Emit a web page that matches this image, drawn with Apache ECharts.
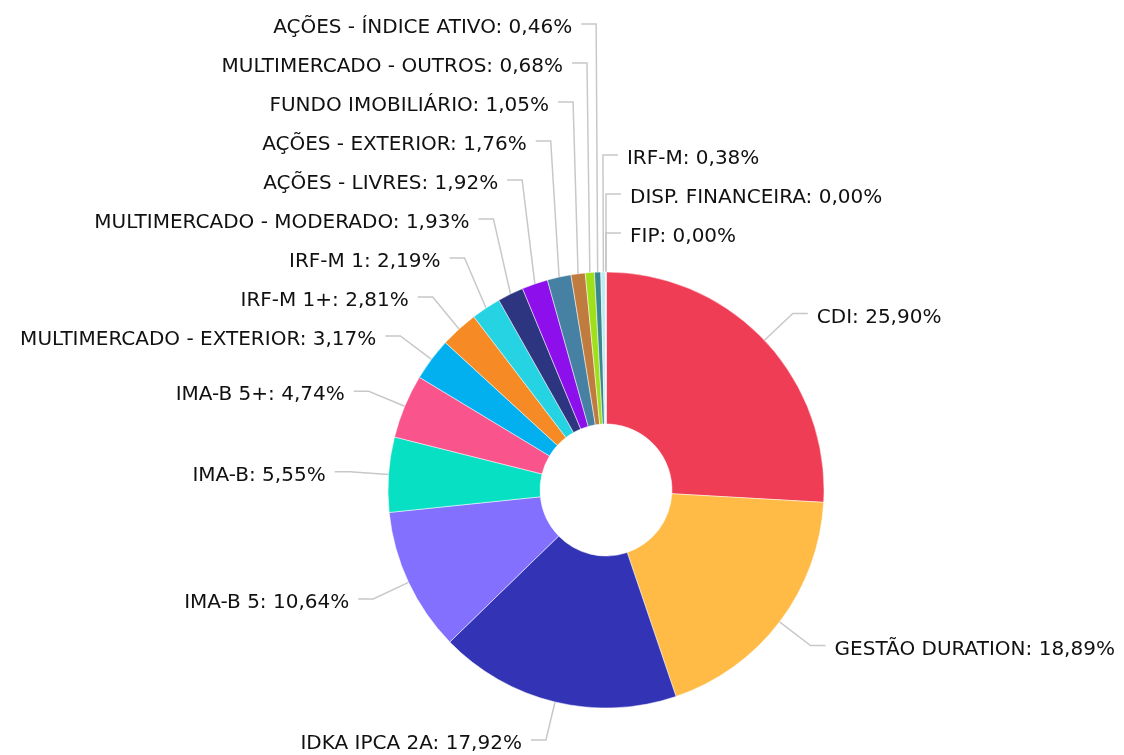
<!DOCTYPE html>
<html>
<head>
<meta charset="utf-8">
<script src="https://cdn.jsdelivr.net/npm/echarts@6/dist/echarts.min.js"></script>
<style>
  html, body { margin: 0; padding: 0; background: #fff; }
  #chart { width: 1124px; height: 755px; }
</style>
</head>
<body>
<div id="chart"></div>
<script>
  // carteira por segmento (%)
  var categorias = [
    'CDI', 'GESTÃO DURATION', 'IDKA IPCA 2A', 'IMA-B 5', 'IMA-B', 'IMA-B 5+',
    'MULTIMERCADO - EXTERIOR', 'IRF-M 1+', 'IRF-M 1', 'MULTIMERCADO - MODERADO',
    'AÇÕES - LIVRES', 'AÇÕES - EXTERIOR', 'FUNDO IMOBILIÁRIO', 'MULTIMERCADO - OUTROS',
    'AÇÕES - ÍNDICE ATIVO', 'IRF-M', 'DISP. FINANCEIRA', 'FIP'
  ];
  var valores = [25.90, 18.89, 17.92, 10.64, 5.55, 4.74, 3.17, 2.81, 2.19, 1.93,
    1.92, 1.76, 1.05, 0.68, 0.46, 0.38, 0.00, 0.00];
  var cores = ['#ef3d55', '#ffbb45', '#3333b5', '#8470ff', '#08e0c4', '#f9548c',
    '#02b0f0', '#f68b25', '#26d3e3', '#2d3480', '#8d0fec', '#4680a2',
    '#c07c3f', '#a0e01a', '#3a8790', '#bfecf0', '#9a9a9a', '#7a7a7a'];

  // geometria da rosca e dos rótulos
  var CX = 606, CY = 490;
  var R_IN = 66, R_OUT = 218;
  var R_ELBOW = 257;   // onde a linha do rótulo dobra
  var TICK = 15;       // trecho horizontal
  var GAP = 9;         // espaço até o texto
  var PASSO = 39;      // altura mínima entre rótulos empilhados

  // posição dos rótulos: empilha de baixo pra cima em cada lado (estilo amCharts)
  function calcRotulos() {
    var total = valores.reduce(function (a, b) { return a + b; }, 0);
    var acc = 0;
    var itens = valores.map(function (v, i) {
      var meio = (acc + v / 2) / total;
      acc += v;
      var th = (90 - 360 * meio) * Math.PI / 180;
      var c = Math.cos(th), s = Math.sin(th);
      return {
        i: i,
        direita: c > -0.02,
        sx: CX + R_OUT * c, sy: CY - R_OUT * s,
        ex: CX + R_ELBOW * c, ey: CY - R_ELBOW * s
      };
    });
    [true, false].forEach(function (lado) {
      var grupo = itens.filter(function (o) { return o.direita === lado; });
      grupo.sort(function (a, b) {
        // empate: no lado esquerdo segue a ordem dos dados, no direito inverte
        if (Math.abs(a.ey - b.ey) < 1) return lado ? b.i - a.i : a.i - b.i;
        return b.ey - a.ey;
      });
      var anterior = Infinity;
      grupo.forEach(function (o) {
        o.y = Math.min(o.ey, anterior - PASSO);
        anterior = o.y;
      });
    });
    return itens;
  }
  var rotulos = calcRotulos();

  var chart = echarts.init(document.getElementById('chart'));

  var dados = categorias.map(function (nome, i) {
    return { name: nome, value: valores[i], itemStyle: { color: cores[i] } };
  });

  var option = {
    animation: false,
    series: [{
      type: 'pie',
      center: [CX, CY],
      radius: [R_IN, R_OUT],
      startAngle: 90,
      clockwise: true,
      avoidLabelOverlap: false,
      minShowLabelAngle: 0,
      stillShowZeroSum: true,
      itemStyle: { borderColor: '#fff', borderWidth: 0.5 },
      label: {
        show: true,
        fontFamily: 'DejaVu Sans',
        fontSize: 20,
        color: '#111',
        overflow: 'none',
        formatter: function (p) {
          return p.name + ': ' + p.value.toFixed(2).replace('.', ',') + '%';
        }
      },
      labelLine: {
        show: true,
        length: 25,
        length2: 15,
        lineStyle: { color: '#c8c8c8', width: 1.5 }
      },
      labelLayout: function (p) {
        var o = rotulos[p.dataIndex];
        var hx = o.direita ? o.ex + TICK : o.ex - TICK;
        return {
          x: o.direita ? hx + GAP : hx - GAP,
          y: o.y + 4,
          align: o.direita ? 'left' : 'right',
          verticalAlign: 'middle',
          labelLinePoints: [[o.sx, o.sy], [o.ex, o.y], [hx, o.y]]
        };
      },
      emphasis: { disabled: true },
      data: dados
    }]
  };

  chart.setOption(option);
</script>
</body>
</html>
